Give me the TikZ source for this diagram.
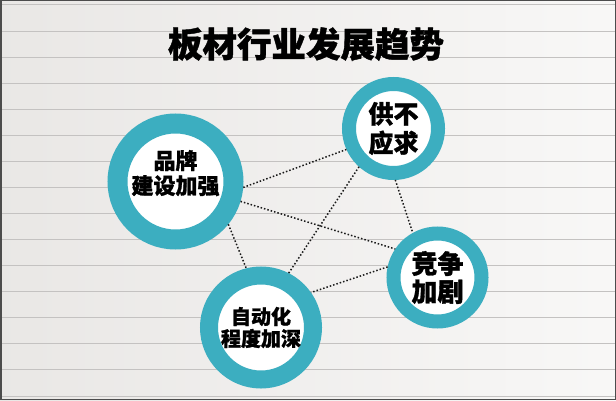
\documentclass[tikz,border=0pt]{standalone}
\usepackage{fontspec}
\newfontfamily\cjk{Noto Sans CJK SC}[BoldFeatures={FakeBold=1.2}]
\definecolor{ring}{RGB}{60,174,192}
\definecolor{paper}{RGB}{238,236,234}
\definecolor{rule}{RGB}{196,194,193}
\tikzset{ringnode/.style = {circle, draw=ring, fill=white, inner sep=0pt, align=center},
         link/.style = {dotted, line width=1.5pt, black!90}}

\begin{document}
\begin{tikzpicture}[x=1pt,y=1pt]
      \useasboundingbox (0,0) rectangle (616,400);
      \fill [left color=paper!98!black, right color=paper!40!white] (0,0) rectangle (616,400);
      \foreach \k in {0,...,15}{
      \draw [rule, line width=1pt] (0, 395-26.07*\k) -- (616, 395-26.07*\k);}
      \draw [black!70, line width=1.5pt] (0.75,0.75) rectangle (615.25,399.25);
      \node [font=\cjk\bfseries\fontsize{34.5}{34.5}\selectfont] (title) at (306,356) {板材行业发展趋势};
      \node [ringnode, minimum size=116pt, line width=20pt, outer sep=10pt,
             font=\cjk\bfseries\fontsize{22}{25}\selectfont] (brand) at (175.5,218.5) {品牌\\建设加强\\[-6pt]};
      \node [ringnode, minimum size=89pt, line width=14pt, outer sep=7pt,
             font=\cjk\bfseries\fontsize{25}{29}\selectfont] (supply) at (393.5,271.5) {供不\\应求};
      \node [ringnode, minimum size=88pt, line width=14pt, outer sep=7pt,
             font=\cjk\bfseries\fontsize{26}{28}\selectfont] (compete) at (437.5,122.5) {竞争\\加剧};
      \node [ringnode, minimum size=104pt, line width=18pt, outer sep=9pt,
             font=\cjk\bfseries\fontsize{20}{22}\selectfont] (auto) at (261,72.5) {自动化\\程度加深};
      \draw [link] (brand.-5) -- (supply.204);
      \draw [link] (brand.-17) -- (compete.146);
      \draw [link] (brand.-39) -- (auto.104);
      \draw [link] (supply.228) -- (auto.63);
      \draw [link] (supply.-88) -- (compete.119);
      \draw [link] (compete.168) -- (auto.35);
    \end{tikzpicture}
\end{document}
